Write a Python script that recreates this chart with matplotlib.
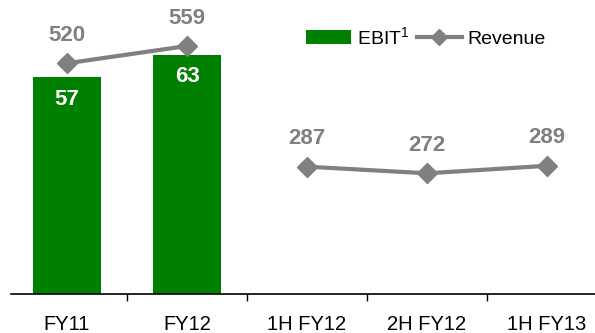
import numpy as np
import matplotlib.pyplot as plt
from matplotlib.patches import Patch
from matplotlib.lines import Line2D

plt.rcParams['font.family'] = ['Liberation Sans', 'DejaVu Sans']
plt.rcParams['mathtext.fontset'] = 'custom'
plt.rcParams['mathtext.rm'] = 'Liberation Sans'

# Data
categories = ['FY11', 'FY12', '1H FY12', '2H FY12', '1H FY13']
ebit_x = [0, 1]
ebit = [57, 63]
rev_full_x = [0, 1]
rev_full = [520, 559]
rev_half_x = [2, 3, 4]
rev_half = [287, 272, 289]

green = '#008000'
grey = '#808080'

W, H = 595, 333
fig = plt.figure(figsize=(W / 100, H / 100), dpi=100)

# axes from x=11px to right edge, from baseline y=294px to top
ax = fig.add_axes([11 / W, 1 - 294 / H, (W - 11) / W, 294 / H])
ax2 = ax.twinx()

# bars (EBIT)
ax.bar(ebit_x, ebit, width=0.56, color=green, zorder=2)
for x, v in zip(ebit_x, ebit):
    ax.annotate(str(v), (x, v), xytext=(0, -16), textcoords='offset points',
                ha='center', va='center', color='white', fontsize=16,
                fontweight='bold')

# revenue lines
for xs, vs in [(rev_full_x, rev_full), (rev_half_x, rev_half)]:
    ax2.plot(xs, vs, color=grey, lw=3, marker='D', markersize=10, zorder=3)
    for x, v in zip(xs, vs):
        ax2.annotate(str(v), (x, v), xytext=(0, 20), textcoords='offset points',
                     ha='center', va='center', color=grey, fontsize=16,
                     fontweight='bold')

ax.set_xlim(-0.5 + 4 / 120, 4.4)
ax.set_ylim(0, 294 / 3.80)
ax2.set_ylim(0, 294 / 0.4437)

for a in (ax, ax2):
    for s in ['top', 'right', 'left']:
        a.spines[s].set_visible(False)
    a.set_yticks([])
ax2.spines['bottom'].set_visible(False)
ax.spines['bottom'].set_linewidth(1.2)

ax.set_xticks(range(len(categories)))
ax.set_xticklabels(categories, fontsize=14.5)
ax.tick_params(axis='x', which='major', length=0, pad=15)
ax.set_xticks([0.5, 1.5, 2.5, 3.5], minor=True)
ax.tick_params(axis='x', which='minor', length=5, width=1, direction='out')

handles = [Patch(facecolor=green, edgecolor='none'),
           Line2D([], [], color=grey, lw=3, marker='D', markersize=8)]
fig.legend(handles, [r'$\mathregular{EBIT^1}$', 'Revenue'], ncol=2,
           loc='center', bbox_to_anchor=(426 / W, 1 - 37 / H), frameon=False,
           fontsize=14, handlelength=2.3, handleheight=0.78, handletextpad=0.3,
           columnspacing=0.4)

fig.savefig('out.png', dpi=100)
